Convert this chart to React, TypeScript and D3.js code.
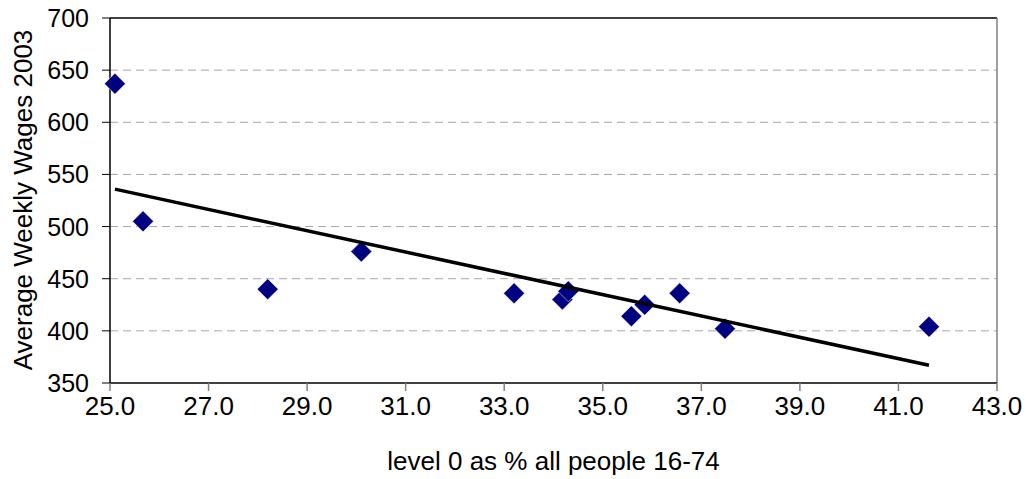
import React from "react";
import * as d3 from "d3";

const levelZeroPct = [25.1, 25.67, 28.2, 30.1, 33.2, 34.18, 34.3, 35.58, 35.85, 36.56, 37.48, 41.62];
const weeklyWages = [637, 505, 440, 476, 436, 430, 438, 414, 425, 436, 402, 404];
const xTicks = [25, 27, 29, 31, 33, 35, 37, 39, 41, 43];
const yTicks = [350, 400, 450, 500, 550, 600, 650, 700];
const xTitle = "level 0 as % all people 16-74";
const yTitle = "Average Weekly Wages 2003";

const W = 1026;
const H = 479;
const M = { left: 110, right: 997, top: 18, bottom: 383 };
const FONT = "'Liberation Sans', Arial, sans-serif";

export default function App() {
  const x = d3.scaleLinear().domain([25, 43]).range([M.left, M.right]);
  const y = d3.scaleLinear().domain([350, 700]).range([M.bottom, M.top]);

  // least-squares trend line
  const n = levelZeroPct.length;
  const mx = d3.mean(levelZeroPct) as number;
  const my = d3.mean(weeklyWages) as number;
  let sxy = 0, sxx = 0;
  for (let i = 0; i < n; i++) {
    sxy += (levelZeroPct[i] - mx) * (weeklyWages[i] - my);
    sxx += (levelZeroPct[i] - mx) ** 2;
  }
  const slope = sxy / sxx;
  const icpt = my - slope * mx;
  const x0 = d3.min(levelZeroPct) as number;
  const x1 = d3.max(levelZeroPct) as number;
  const trend = d3.line<number>().x((d) => x(d)).y((d) => y(icpt + slope * d))([x0, x1]) || "";

  const r = 10.5;
  const diamondPath = `M0,${-r}L${r},0L0,${r}L${-r},0Z`;

  return (
    <svg width={W} height={H} style={{ position: "absolute", left: 0, top: 0, background: "#fff" }}>
      <rect x={0} y={0} width={W} height={H} fill="#fff" />
      {yTicks.filter((t) => t > 350 && t < 700).map((t) => (
        <line key={"g" + t} x1={M.left} x2={M.right} y1={y(t)} y2={y(t)} stroke="#a6a6a6" strokeWidth={1} strokeDasharray="8,5" />
      ))}
      <line x1={M.left} x2={M.right} y1={M.top} y2={M.top} stroke="#000" strokeWidth={1.5} />
      <line x1={M.right} x2={M.right} y1={M.top} y2={M.bottom} stroke="#808080" strokeWidth={1.5} />
      <line x1={M.left} x2={M.left} y1={M.top} y2={M.bottom + 1} stroke="#000" strokeWidth={1.5} />
      {yTicks.map((t) => (
        <g key={"y" + t}>
          <line x1={M.left - 8} x2={M.left} y1={y(t)} y2={y(t)} stroke="#000" strokeWidth={1} />
          <text x={89} y={y(t)} dy="0.36em" textAnchor="end" fontFamily={FONT} fontSize={25} fill="#000">
            {t}
          </text>
        </g>
      ))}
      <line x1={M.left} x2={M.right} y1={M.bottom} y2={M.bottom} stroke="#000" strokeWidth={1.5} />
      {xTicks.map((t) => (
        <g key={"x" + t}>
          <line x1={x(t)} x2={x(t)} y1={M.bottom} y2={M.bottom + 8} stroke="#808080" strokeWidth={1.5} />
          <text x={x(t)} y={415} textAnchor="middle" fontFamily={FONT} fontSize={26} fill="#000">
            {d3.format(".1f")(t)}
          </text>
        </g>
      ))}
      <text x={(M.left + M.right) / 2} y={470} textAnchor="middle" fontFamily={FONT} fontSize={26} fill="#000">
        {xTitle}
      </text>
      <text
        transform={`translate(32,200) rotate(-90)`}
        textAnchor="middle"
        fontFamily={FONT}
        fontSize={26}
        fill="#000"
      >
        {yTitle}
      </text>
      {levelZeroPct.map((v, i) => (
        <path key={"p" + i} d={diamondPath} transform={`translate(${x(v)},${y(weeklyWages[i])})`} fill="#000080" stroke="#fff" strokeWidth={0.5} />
      ))}
      <path d={trend} fill="none" stroke="#000" strokeWidth={3.5} />
    </svg>
  );
}
